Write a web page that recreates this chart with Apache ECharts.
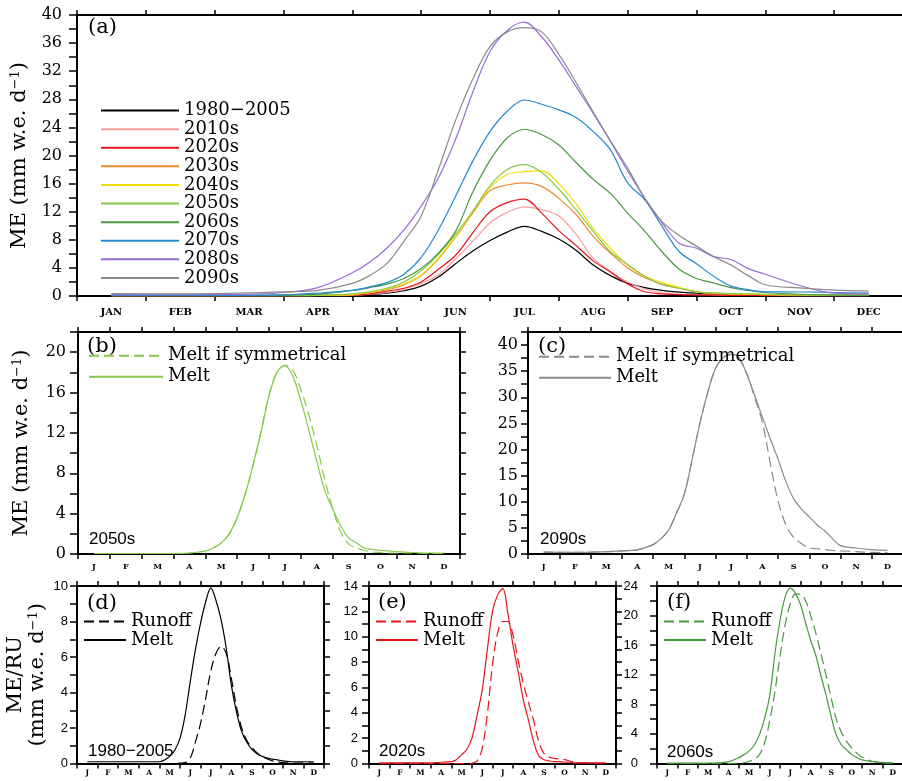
<!DOCTYPE html>
<html>
<head>
<meta charset="utf-8">
<script src="https://cdn.jsdelivr.net/npm/echarts@6/dist/echarts.min.js"></script>
<style>
  html, body { margin: 0; padding: 0; background: #fff; }
  #chart { width: 902px; height: 781px; }
</style>
</head>
<body>
<div id="chart"></div>
<script>
// Position of each daily-climatology sample, in months from 1 January (0 = Jan 1, 12 = Dec 31)
const monthPos = [0.5, 1.5, 2.5, 3.0, 3.5, 4.0, 4.25, 4.5, 4.75, 5.0, 5.25, 5.5, 5.75, 6.0, 6.25, 6.5,
                  6.75, 7.0, 7.25, 7.5, 7.75, 8.0, 8.25, 8.5, 8.75, 9.0, 9.25, 9.5, 9.75, 10.0, 10.5, 11.0, 11.5];

const monthNames = ['JAN', 'FEB', 'MAR', 'APR', 'MAY', 'JUN', 'JUL', 'AUG', 'SEP', 'OCT', 'NOV', 'DEC'];
const monthInitials = ['J', 'F', 'M', 'A', 'M', 'J', 'J', 'A', 'S', 'O', 'N', 'D'];

const periods = ['1980\u22122005', '2010s', '2020s', '2030s', '2040s', '2050s', '2060s', '2070s', '2080s', '2090s'];
const periodColors = ['#000000', '#ff9d9d', '#e8141c', '#ee8a2e', '#f5dc00', '#86c94a', '#46993c', '#2489cc', '#9a6ad8', '#8a8a8a'];

// Melt (ME), mm w.e. per day
const melt1980 = [0.1, 0.1, 0.1, 0.1, 0.1, 0.1, 0.2, 0.4, 0.75, 1.4, 2.7, 4.6, 6.4, 7.9, 9.1, 9.9,
                  9.2, 8.1, 6.5, 4.4, 2.9, 1.8, 1.2, 0.8, 0.55, 0.4, 0.3, 0.25, 0.2, 0.15, 0.1, 0.1, 0.1];
const melt2010 = [0.05, 0.05, 0.05, 0.05, 0.05, 0.1, 0.25, 0.5, 1.0, 1.8, 3.0, 5.3, 7.8, 10.4, 11.9, 12.7,
                  12.3, 11.4, 8.8, 5.4, 3.5, 2.0, 1.0, 0.45, 0.25, 0.2, 0.15, 0.1, 0.1, 0.1, 0.05, 0.05, 0.05];
const melt2020 = [0.05, 0.05, 0.05, 0.05, 0.1, 0.15, 0.3, 0.7, 1.1, 2.0, 3.8, 5.8, 9.0, 12.0, 13.3, 13.8,
                  11.8, 9.3, 7.2, 5.0, 3.4, 1.7, 0.6, 0.3, 0.2, 0.15, 0.15, 0.1, 0.1, 0.05, 0.05, 0.05, 0.05];
const melt2030 = [0.05, 0.05, 0.05, 0.05, 0.1, 0.2, 0.5, 0.9, 1.6, 2.9, 5.3, 8.4, 11.8, 15.0, 15.8, 16.1,
                  15.6, 13.9, 11.6, 8.5, 6.1, 4.0, 2.6, 1.7, 1.1, 0.6, 0.4, 0.3, 0.25, 0.2, 0.15, 0.1, 0.1];
const melt2040 = [0.05, 0.05, 0.05, 0.05, 0.1, 0.2, 0.5, 1.0, 1.7, 3.0, 5.4, 8.5, 12.0, 15.4, 17.3, 17.7,
                  17.8, 16.0, 13.1, 9.6, 6.8, 4.4, 2.8, 1.9, 1.2, 0.6, 0.4, 0.3, 0.25, 0.2, 0.15, 0.1, 0.1];
const melt2050 = [0.05, 0.05, 0.05, 0.05, 0.1, 0.3, 0.6, 1.1, 2.0, 3.6, 5.9, 8.8, 12.1, 15.7, 18.0, 18.7,
                  17.6, 15.2, 12.3, 9.2, 6.3, 4.5, 2.8, 1.6, 1.1, 0.6, 0.45, 0.35, 0.3, 0.25, 0.15, 0.1, 0.1];
const melt2060 = [0.05, 0.05, 0.05, 0.1, 0.25, 0.8, 1.2, 1.7, 2.5, 3.9, 6.1, 9.2, 14.8, 19.3, 22.5, 23.7,
                  23.0, 21.5, 19.0, 16.6, 14.6, 11.8, 9.2, 6.3, 3.8, 2.5, 1.85, 1.2, 0.8, 0.5, 0.25, 0.15, 0.1];
const melt2070 = [0.1, 0.1, 0.1, 0.15, 0.4, 0.8, 1.3, 1.9, 3.1, 5.5, 9.4, 14.2, 19.2, 23.4, 26.3, 27.9,
                  27.3, 26.5, 25.4, 23.4, 20.8, 16.1, 13.7, 9.9, 6.3, 4.6, 2.8, 1.4, 0.9, 0.6, 0.57, 0.5, 0.4];
const melt2080 = [0.2, 0.2, 0.25, 0.5, 1.2, 3.3, 4.8, 6.8, 9.4, 12.8, 16.8, 22.3, 29.0, 34.8, 37.8, 39.0,
                  36.9, 33.6, 29.8, 26.0, 22.0, 17.8, 13.9, 10.4, 7.5, 6.8, 5.6, 5.2, 3.9, 3.1, 1.5, 0.4, 0.3];
const melt2090 = [0.35, 0.3, 0.45, 0.6, 0.8, 1.8, 2.9, 4.6, 7.8, 11.4, 18.0, 25.0, 30.9, 35.5, 37.6, 38.2,
                  37.6, 34.4, 30.4, 26.2, 22.1, 18.2, 13.9, 10.6, 8.6, 7.1, 5.6, 4.4, 2.9, 1.6, 1.15, 0.85, 0.7];

// Melt if the seasonal cycle were symmetrical about its peak
const sym2050 = [0.05, 0.05, 0.05, 0.05, 0.1, 0.3, 0.6, 1.1, 2.0, 3.6, 5.9, 8.8, 12.1, 15.7, 18.0, 18.7,
                 18.2, 16.3, 13.8, 10.8, 7.4, 4.5, 2.2, 1.0, 0.6, 0.35, 0.2, 0.15, 0.1, 0.1, 0.1, 0.05, 0.05];
const sym2090 = [0.35, 0.3, 0.45, 0.6, 0.8, 1.8, 2.9, 4.6, 7.8, 11.4, 18.0, 25.0, 30.9, 35.5, 37.6, 38.2,
                 37.4, 34.6, 30.0, 25.2, 17.5, 10.2, 5.6, 3.2, 2.0, 1.15, 1.0, 0.85, 0.7, 0.6, 0.45, 0.3, 0.25];

// Runoff (RU), mm w.e. per day
const runoff1980 = [0, 0, 0, 0, 0, 0, 0, 0, 0, 0.02, 0.05, 0.3, 1.2, 2.25, 3.65, 5.2,
                    6.2, 6.6, 6.2, 4.8, 3.2, 2.0, 1.3, 0.9, 0.6, 0.4, 0.25, 0.15, 0.1, 0.05, 0.03, 0.02, 0.02];
const runoff2020 = [0, 0, 0, 0, 0, 0, 0, 0, 0, 0.02, 0.2, 1.2, 3.9, 7.8, 10.3, 11.2,
                    11.2, 10.1, 8.1, 6.3, 4.8, 3.4, 1.7, 0.8, 0.5, 0.4, 0.35, 0.3, 0.2, 0.1, 0.05, 0.02, 0.02];
const runoff2060 = [0, 0, 0, 0, 0, 0.05, 0.1, 0.3, 0.6, 1.2, 2.8, 5.8, 9.7, 14.5, 18.7, 21.6,
                    22.9, 22.9, 22.0, 20.0, 17.6, 14.8, 11.9, 8.8, 6.0, 4.2, 3.0, 2.1, 1.4, 0.85, 0.3, 0.1, 0.05];

const meltByPeriod = [melt1980, melt2010, melt2020, melt2030, melt2040, melt2050, melt2060, melt2070, melt2080, melt2090];

const SERIF = 'DejaVu Serif';
const SANS = 'Liberation Sans';

function range(a, b, step) {
  const out = [];
  for (let v = a; v <= b + 1e-9; v += step) out.push(+v.toFixed(4));
  return out;
}
function points(vals) { return monthPos.map((m, i) => [m, vals[i]]); }

const unitsText = '(mm w.e. d{sup|\u22121})';
const titleStyle = {
  fontFamily: SERIF, fontSize: 21, color: '#000', lineHeight: 22,
  rich: { sup: { fontFamily: SERIF, fontSize: 13, verticalAlign: 'top', color: '#000' } }
};

// Panel frames: (a) top row; (b),(c) middle row; (d),(e),(f) bottom row
const panels = [
  { left: 77,  top: 15,  width: 826, height: 281,   yMax: 40,   tickStep: 2,   labelStep: 4, font: SERIF, fontSize: 16, labelMargin: 15, yTickLen: 8,
    months: monthNames, monthSize: 10, monthMargin: 11, name: 'ME ' + unitsText, nameGap: 45 },
  { left: 78,  top: 332, width: 382, height: 222,   yMax: 22,   tickStep: 2,   labelStep: 4, font: SERIF, fontSize: 16, labelMargin: 12, yTickLen: 8,
    months: monthInitials, monthSize: 8, monthMargin: 9, name: 'ME ' + unitsText, nameGap: 45 },
  { left: 528, top: 332, width: 375, height: 222,   yMax: 42.5, tickStep: 2.5, labelStep: 5, font: SERIF, fontSize: 16, labelMargin: 10, yTickLen: 7,
    months: monthInitials, monthSize: 8, monthMargin: 9 },
  { left: 77,  top: 586, width: 247, height: 177.5, yMax: 10,   tickStep: 1,   labelStep: 2, font: SANS,  fontSize: 13, labelMargin: 9,  yTickLen: 7,
    months: monthInitials, monthSize: 7.5, monthMargin: 6, name: 'ME/RU\n' + unitsText, nameGap: 28 },
  { left: 369, top: 586, width: 247, height: 177.5, yMax: 14,   tickStep: 1,   labelStep: 2, font: SANS,  fontSize: 13, labelMargin: 11, yTickLen: 7,
    months: monthInitials, monthSize: 7.5, monthMargin: 6 },
  { left: 657, top: 586, width: 246, height: 177.5, yMax: 24,   tickStep: 2,   labelStep: 4, font: SANS,  fontSize: 13, labelMargin: 19, yTickLen: 7,
    months: monthInitials, monthSize: 7.5, monthMargin: 6 }
];

const axisLine = { show: true, onZero: false, lineStyle: { color: '#000', width: 2 } };
const tickLine = { color: '#000', width: 1.5 };

const grid = [], xAxis = [], yAxis = [];
panels.forEach((p, i) => {
  grid.push({ left: p.left, top: p.top, width: p.width, height: p.height, containLabel: false, outerBoundsMode: 'none' });
  const months = p.months;
  const xBase = {
    type: 'value', gridIndex: i, min: 0, max: 12,
    axisLine: axisLine, splitLine: { show: false },
    axisTick: { show: true, customValues: range(0, 12, 1), length: 5, lineStyle: tickLine }
  };
  xAxis.push(Object.assign({}, xBase, {
    position: 'bottom',
    axisLabel: {
      customValues: range(0.5, 11.5, 1),
      formatter: v => months[Math.floor(v)],
      fontFamily: SERIF, fontWeight: 'bold', fontSize: p.monthSize, color: '#000', margin: p.monthMargin
    }
  }));
  xAxis.push(Object.assign({}, xBase, { position: 'top', axisLabel: { show: false } }));

  const ticks = range(0, p.yMax, p.tickStep);
  const yLeft = {
    type: 'value', gridIndex: i, min: 0, max: p.yMax, position: 'left',
    axisLine: axisLine, splitLine: { show: false },
    axisTick: { show: true, customValues: ticks, length: p.yTickLen, lineStyle: tickLine },
    axisLabel: {
      customValues: range(0, p.yMax, p.labelStep),
      fontFamily: p.font, fontSize: p.fontSize, color: '#000', margin: p.labelMargin
    }
  };
  if (p.name) {
    Object.assign(yLeft, { name: p.name, nameLocation: 'middle', nameGap: p.nameGap, nameRotate: 90, nameTextStyle: titleStyle });
  }
  yAxis.push(yLeft);
  yAxis.push({
    type: 'value', gridIndex: i, min: 0, max: p.yMax, position: 'right',
    axisLine: axisLine, splitLine: { show: false },
    axisTick: { show: true, customValues: ticks, length: 6, lineStyle: tickLine },
    axisLabel: { show: false }
  });
});

function lineSeries(name, panel, vals, color, dashed) {
  return {
    name: name, type: 'line', xAxisIndex: 2 * panel, yAxisIndex: 2 * panel,
    data: points(vals), symbol: 'none', showSymbol: false, smooth: 0.35,
    lineStyle: { color: color, width: 1.2, type: dashed ? [10, 5] : 'solid' },
    itemStyle: { color: color }, emphasis: { disabled: true }
  };
}

const series = [];
periods.forEach((name, k) => series.push(lineSeries(name, 0, meltByPeriod[k], periodColors[k], false)));
series.push(lineSeries('b:Melt if symmetrical', 1, sym2050, periodColors[5], true));
series.push(lineSeries('b:Melt', 1, melt2050, periodColors[5], false));
series.push(lineSeries('c:Melt if symmetrical', 2, sym2090, periodColors[9], true));
series.push(lineSeries('c:Melt', 2, melt2090, periodColors[9], false));
series.push(lineSeries('d:Runoff', 3, runoff1980, periodColors[0], true));
series.push(lineSeries('d:Melt', 3, melt1980, periodColors[0], false));
series.push(lineSeries('e:Runoff', 4, runoff2020, periodColors[2], true));
series.push(lineSeries('e:Melt', 4, melt2020, periodColors[2], false));
series.push(lineSeries('f:Runoff', 5, runoff2060, periodColors[6], true));
series.push(lineSeries('f:Melt', 5, melt2060, periodColors[6], false));

const legendText = { fontFamily: SERIF, fontSize: 18, color: '#000' };
function panelLegend(names, left, top, itemWidth, lineHeight) {
  return {
    data: names, orient: 'vertical', left: left, top: top, padding: 0,
    itemWidth: itemWidth, itemHeight: 12, itemGap: 0.5, selectedMode: false,
    itemStyle: { opacity: 0 },
    formatter: n => n.indexOf(':') === 1 ? n.slice(2) : n,
    textStyle: Object.assign({ lineHeight: lineHeight }, legendText)
  };
}
const legend = [
  panelLegend(periods, 100, 101.5, 78, 18.1),
  panelLegend(['b:Melt if symmetrical', 'b:Melt'], 88, 345.5, 74, 20.5),
  panelLegend(['c:Melt if symmetrical', 'c:Melt'], 538, 346.5, 72, 20.5),
  panelLegend(['d:Runoff', 'd:Melt'], 83, 612.5, 42, 18),
  panelLegend(['e:Runoff', 'e:Melt'], 375, 612.5, 42, 18),
  panelLegend(['f:Runoff', 'f:Melt'], 663, 612.5, 42, 18)
];

function label(text, x, y, font) {
  return { type: 'text', x: x, y: y, silent: true,
           style: { text: text, font: font, fill: '#000', align: 'left', verticalAlign: 'middle' } };
}
const tagFont = '21px "' + SERIF + '"';
const stampFont = '17px "' + SANS + '"';
const graphic = [
  label('(a)', 88, 28, tagFont),
  label('(b)', 87, 347, tagFont),
  label('(c)', 538, 347, tagFont),
  label('(d)', 87, 604, tagFont),
  label('(e)', 378, 603, tagFont),
  label('(f)', 667, 603, tagFont),
  label('2050s', 89, 539, stampFont),
  label('2090s', 540, 539, stampFont),
  label('1980\u22122005', 88, 751, stampFont),
  label('2020s', 379, 751, stampFont),
  label('2060s', 667, 752, stampFont)
];

const chart = echarts.init(document.getElementById('chart'), null, { renderer: 'canvas' });
chart.setOption({
  animation: false,
  backgroundColor: '#ffffff',
  textStyle: { fontFamily: SERIF },
  grid: grid, xAxis: xAxis, yAxis: yAxis,
  legend: legend, series: series, graphic: graphic
});
</script>
</body>
</html>
